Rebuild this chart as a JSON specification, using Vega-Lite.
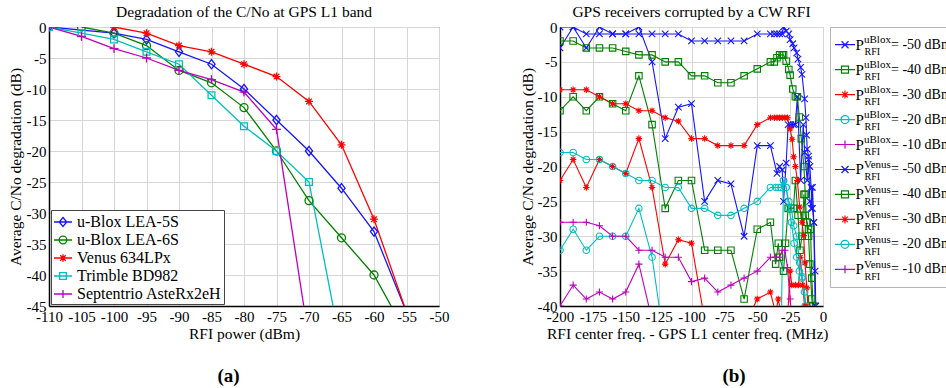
{
 "$schema": "https://vega.github.io/schema/vega-lite/v6.json",
 "padding": {"left": 7, "top": 4, "right": 0, "bottom": 0},
 "background": "white",
 "config": {
  "font": "Liberation Serif",
  "axis": {"labelFont": "Liberation Serif", "labelFontSize": 15, "labelColor": "#000", "titleFont": "Liberation Serif", "titleFontSize": 15.5, "titleFontWeight": "normal", "titleColor": "#000", "ticks": false, "grid": true, "gridColor": "#d6d6d6", "domainColor": "#000", "domainWidth": 1.5, "labelPadding": 3, "labelFlush": false, "labelOverlap": false},
  "title": {"font": "Liberation Serif", "fontSize": 15.5, "fontWeight": "normal", "color": "#000"}
 },
 "resolve": {"scale": {"color": "independent", "shape": "independent"}},
 "spacing": 69,
 "datasets": {
  "left": [
   {"rx": "u-Blox LEA-5S", "x": -110, "y": 0}, {"rx": "u-Blox LEA-5S", "x": -100, "y": -1}, {"rx": "u-Blox LEA-5S", "x": -95, "y": -2}, {"rx": "u-Blox LEA-5S", "x": -90, "y": -4}, {"rx": "u-Blox LEA-5S", "x": -85, "y": -6}, {"rx": "u-Blox LEA-5S", "x": -80, "y": -10}, {"rx": "u-Blox LEA-5S", "x": -75, "y": -15}, {"rx": "u-Blox LEA-5S", "x": -70, "y": -20}, {"rx": "u-Blox LEA-5S", "x": -65, "y": -26}, {"rx": "u-Blox LEA-5S", "x": -60, "y": -33}, {"rx": "u-Blox LEA-5S", "x": -55, "y": -46},
   {"rx": "u-Blox LEA-6S", "x": -105, "y": 0}, {"rx": "u-Blox LEA-6S", "x": -100, "y": -1}, {"rx": "u-Blox LEA-6S", "x": -95, "y": -3}, {"rx": "u-Blox LEA-6S", "x": -90, "y": -7}, {"rx": "u-Blox LEA-6S", "x": -85, "y": -9}, {"rx": "u-Blox LEA-6S", "x": -80, "y": -13}, {"rx": "u-Blox LEA-6S", "x": -75, "y": -20}, {"rx": "u-Blox LEA-6S", "x": -70, "y": -28}, {"rx": "u-Blox LEA-6S", "x": -65, "y": -34}, {"rx": "u-Blox LEA-6S", "x": -60, "y": -40}, {"rx": "u-Blox LEA-6S", "x": -55, "y": -49.5},
   {"rx": "Venus 634LPx", "x": -100, "y": 0}, {"rx": "Venus 634LPx", "x": -95, "y": -1}, {"rx": "Venus 634LPx", "x": -90, "y": -3}, {"rx": "Venus 634LPx", "x": -85, "y": -4}, {"rx": "Venus 634LPx", "x": -80, "y": -6}, {"rx": "Venus 634LPx", "x": -75, "y": -8}, {"rx": "Venus 634LPx", "x": -70, "y": -12}, {"rx": "Venus 634LPx", "x": -65, "y": -19}, {"rx": "Venus 634LPx", "x": -60, "y": -31}, {"rx": "Venus 634LPx", "x": -55, "y": -46},
   {"rx": "Trimble BD982", "x": -110, "y": 0}, {"rx": "Trimble BD982", "x": -105, "y": -1}, {"rx": "Trimble BD982", "x": -100, "y": -2}, {"rx": "Trimble BD982", "x": -95, "y": -4}, {"rx": "Trimble BD982", "x": -90, "y": -6}, {"rx": "Trimble BD982", "x": -85, "y": -11}, {"rx": "Trimble BD982", "x": -80, "y": -16}, {"rx": "Trimble BD982", "x": -75, "y": -20}, {"rx": "Trimble BD982", "x": -70, "y": -25}, {"rx": "Trimble BD982", "x": -65, "y": -52},
   {"rx": "Septentrio AsteRx2eH", "x": -110, "y": 0}, {"rx": "Septentrio AsteRx2eH", "x": -105, "y": -1.5}, {"rx": "Septentrio AsteRx2eH", "x": -100, "y": -3.5}, {"rx": "Septentrio AsteRx2eH", "x": -95, "y": -5}, {"rx": "Septentrio AsteRx2eH", "x": -90, "y": -7}, {"rx": "Septentrio AsteRx2eH", "x": -85, "y": -8.5}, {"rx": "Septentrio AsteRx2eH", "x": -80, "y": -10.5}, {"rx": "Septentrio AsteRx2eH", "x": -75, "y": -16.5}, {"rx": "Septentrio AsteRx2eH", "x": -70, "y": -50.5}
  ],
  "right": [
   {"r":"uBlox","p":-50,"f":-200,"d":0},{"r":"uBlox","p":-50,"f":-190,"d":0},{"r":"uBlox","p":-50,"f":-180,"d":-1},{"r":"uBlox","p":-50,"f":-170,"d":-1},{"r":"uBlox","p":-50,"f":-160,"d":-1},{"r":"uBlox","p":-50,"f":-150,"d":-1},{"r":"uBlox","p":-50,"f":-140,"d":-1},{"r":"uBlox","p":-50,"f":-130,"d":-1},{"r":"uBlox","p":-50,"f":-120,"d":-1},{"r":"uBlox","p":-50,"f":-110,"d":-1},{"r":"uBlox","p":-50,"f":-100,"d":-2},{"r":"uBlox","p":-50,"f":-90,"d":-2},{"r":"uBlox","p":-50,"f":-80,"d":-2},{"r":"uBlox","p":-50,"f":-70,"d":-2},{"r":"uBlox","p":-50,"f":-60,"d":-2},{"r":"uBlox","p":-50,"f":-50,"d":-1},{"r":"uBlox","p":-50,"f":-40,"d":-1},{"r":"uBlox","p":-50,"f":-37,"d":-1},{"r":"uBlox","p":-50,"f":-35,"d":-1},{"r":"uBlox","p":-50,"f":-33,"d":-1},{"r":"uBlox","p":-50,"f":-31,"d":-1},{"r":"uBlox","p":-50,"f":-30,"d":0},{"r":"uBlox","p":-50,"f":-28,"d":-0.6},{"r":"uBlox","p":-50,"f":-26,"d":-1},{"r":"uBlox","p":-50,"f":-25,"d":-1.8},{"r":"uBlox","p":-50,"f":-23,"d":-2.4},{"r":"uBlox","p":-50,"f":-22,"d":-3},{"r":"uBlox","p":-50,"f":-20,"d":-3.7},{"r":"uBlox","p":-50,"f":-19,"d":-4.6},{"r":"uBlox","p":-50,"f":-17,"d":-5.8},{"r":"uBlox","p":-50,"f":-16,"d":-6.8},{"r":"uBlox","p":-50,"f":-14,"d":-10.3},{"r":"uBlox","p":-50,"f":-13,"d":-13},{"r":"uBlox","p":-50,"f":-12.5,"d":-15.5},{"r":"uBlox","p":-50,"f":-12,"d":-17.5},{"r":"uBlox","p":-50,"f":-11,"d":-18.5},{"r":"uBlox","p":-50,"f":-10,"d":-20},{"r":"uBlox","p":-50,"f":-9,"d":-23},{"r":"uBlox","p":-50,"f":-8,"d":-26},{"r":"uBlox","p":-50,"f":-7,"d":-28},{"r":"uBlox","p":-50,"f":-6,"d":-35},{"r":"uBlox","p":-50,"f":-5.5,"d":-40},
   {"r":"Venus","p":-50,"f":-200,"d":-3},{"r":"Venus","p":-50,"f":-190,"d":0},{"r":"Venus","p":-50,"f":-180,"d":-3},{"r":"Venus","p":-50,"f":-170,"d":0},{"r":"Venus","p":-50,"f":-160,"d":-1},{"r":"Venus","p":-50,"f":-150,"d":-1},{"r":"Venus","p":-50,"f":-140,"d":0},{"r":"Venus","p":-50,"f":-130,"d":-5},{"r":"Venus","p":-50,"f":-120,"d":-16},{"r":"Venus","p":-50,"f":-110,"d":-11.5},{"r":"Venus","p":-50,"f":-100,"d":-11},{"r":"Venus","p":-50,"f":-90,"d":-25},{"r":"Venus","p":-50,"f":-80,"d":-22},{"r":"Venus","p":-50,"f":-70,"d":-22.5},{"r":"Venus","p":-50,"f":-60,"d":-30},{"r":"Venus","p":-50,"f":-50,"d":-17},{"r":"Venus","p":-50,"f":-40,"d":-17},{"r":"Venus","p":-50,"f":-35,"d":-21},{"r":"Venus","p":-50,"f":-33,"d":-20},{"r":"Venus","p":-50,"f":-31,"d":-20.5},{"r":"Venus","p":-50,"f":-30,"d":-25},{"r":"Venus","p":-50,"f":-28,"d":-19.5},{"r":"Venus","p":-50,"f":-26.5,"d":-14},{"r":"Venus","p":-50,"f":-24.5,"d":-14},{"r":"Venus","p":-50,"f":-22.5,"d":-14},{"r":"Venus","p":-50,"f":-21,"d":-14},{"r":"Venus","p":-50,"f":-19.5,"d":-10},{"r":"Venus","p":-50,"f":-17,"d":-22},{"r":"Venus","p":-50,"f":-15,"d":-14},{"r":"Venus","p":-50,"f":-14,"d":-18},{"r":"Venus","p":-50,"f":-12,"d":-22},{"r":"Venus","p":-50,"f":-11,"d":-19},{"r":"Venus","p":-50,"f":-10,"d":-25},{"r":"Venus","p":-50,"f":-9,"d":-26},{"r":"Venus","p":-50,"f":-8,"d":-23},{"r":"Venus","p":-50,"f":-7,"d":-28},{"r":"Venus","p":-50,"f":-6,"d":-40},
   {"r":"uBlox","p":-40,"f":-200,"d":-2},{"r":"uBlox","p":-40,"f":-190,"d":-2},{"r":"uBlox","p":-40,"f":-180,"d":-3},{"r":"uBlox","p":-40,"f":-170,"d":-3},{"r":"uBlox","p":-40,"f":-160,"d":-3},{"r":"uBlox","p":-40,"f":-150,"d":-3.5},{"r":"uBlox","p":-40,"f":-140,"d":-4},{"r":"uBlox","p":-40,"f":-130,"d":-4},{"r":"uBlox","p":-40,"f":-120,"d":-5},{"r":"uBlox","p":-40,"f":-110,"d":-5},{"r":"uBlox","p":-40,"f":-100,"d":-7},{"r":"uBlox","p":-40,"f":-90,"d":-7},{"r":"uBlox","p":-40,"f":-80,"d":-8},{"r":"uBlox","p":-40,"f":-70,"d":-8},{"r":"uBlox","p":-40,"f":-60,"d":-7},{"r":"uBlox","p":-40,"f":-50,"d":-6},{"r":"uBlox","p":-40,"f":-40,"d":-5},{"r":"uBlox","p":-40,"f":-37,"d":-5},{"r":"uBlox","p":-40,"f":-35,"d":-4.4},{"r":"uBlox","p":-40,"f":-33,"d":-4},{"r":"uBlox","p":-40,"f":-31,"d":-4},{"r":"uBlox","p":-40,"f":-30,"d":-4},{"r":"uBlox","p":-40,"f":-28,"d":-4.9},{"r":"uBlox","p":-40,"f":-26,"d":-6.1},{"r":"uBlox","p":-40,"f":-25,"d":-6.9},{"r":"uBlox","p":-40,"f":-23,"d":-8.9},{"r":"uBlox","p":-40,"f":-21,"d":-10},{"r":"uBlox","p":-40,"f":-19.5,"d":-10},{"r":"uBlox","p":-40,"f":-18,"d":-12.9},{"r":"uBlox","p":-40,"f":-16.5,"d":-16},{"r":"uBlox","p":-40,"f":-14.5,"d":-20},{"r":"uBlox","p":-40,"f":-13.5,"d":-24},{"r":"uBlox","p":-40,"f":-12.5,"d":-28},{"r":"uBlox","p":-40,"f":-11,"d":-30},{"r":"uBlox","p":-40,"f":-10,"d":-34},{"r":"uBlox","p":-40,"f":-8.5,"d":-39},{"r":"uBlox","p":-40,"f":-8,"d":-40},
   {"r":"Venus","p":-40,"f":-200,"d":-12},{"r":"Venus","p":-40,"f":-190,"d":-10},{"r":"Venus","p":-40,"f":-180,"d":-12},{"r":"Venus","p":-40,"f":-170,"d":-10},{"r":"Venus","p":-40,"f":-160,"d":-11},{"r":"Venus","p":-40,"f":-150,"d":-12},{"r":"Venus","p":-40,"f":-140,"d":-7},{"r":"Venus","p":-40,"f":-130,"d":-14},{"r":"Venus","p":-40,"f":-120,"d":-26},{"r":"Venus","p":-40,"f":-110,"d":-22},{"r":"Venus","p":-40,"f":-100,"d":-22},{"r":"Venus","p":-40,"f":-90,"d":-32},{"r":"Venus","p":-40,"f":-80,"d":-32},{"r":"Venus","p":-40,"f":-70,"d":-32},{"r":"Venus","p":-40,"f":-60,"d":-39},{"r":"Venus","p":-40,"f":-50,"d":-29},{"r":"Venus","p":-40,"f":-40,"d":-28},{"r":"Venus","p":-40,"f":-36,"d":-34},{"r":"Venus","p":-40,"f":-34,"d":-31},{"r":"Venus","p":-40,"f":-33,"d":-33},{"r":"Venus","p":-40,"f":-30,"d":-35},{"r":"Venus","p":-40,"f":-28.5,"d":-31},{"r":"Venus","p":-40,"f":-26.5,"d":-26},{"r":"Venus","p":-40,"f":-24.5,"d":-26},{"r":"Venus","p":-40,"f":-22.5,"d":-26},{"r":"Venus","p":-40,"f":-21,"d":-22},{"r":"Venus","p":-40,"f":-19,"d":-27},{"r":"Venus","p":-40,"f":-17.5,"d":-32},{"r":"Venus","p":-40,"f":-16,"d":-30},{"r":"Venus","p":-40,"f":-14.5,"d":-24},{"r":"Venus","p":-40,"f":-13.5,"d":-27},{"r":"Venus","p":-40,"f":-12,"d":-28},{"r":"Venus","p":-40,"f":-11,"d":-29},{"r":"Venus","p":-40,"f":-9.5,"d":-29},{"r":"Venus","p":-40,"f":-8.5,"d":-36},{"r":"Venus","p":-40,"f":-7.5,"d":-40},
   {"r":"uBlox","p":-30,"f":-200,"d":-9},{"r":"uBlox","p":-30,"f":-190,"d":-9},{"r":"uBlox","p":-30,"f":-180,"d":-9},{"r":"uBlox","p":-30,"f":-170,"d":-10},{"r":"uBlox","p":-30,"f":-160,"d":-11},{"r":"uBlox","p":-30,"f":-150,"d":-11},{"r":"uBlox","p":-30,"f":-140,"d":-12},{"r":"uBlox","p":-30,"f":-130,"d":-12},{"r":"uBlox","p":-30,"f":-120,"d":-13},{"r":"uBlox","p":-30,"f":-110,"d":-13.5},{"r":"uBlox","p":-30,"f":-100,"d":-16},{"r":"uBlox","p":-30,"f":-90,"d":-16},{"r":"uBlox","p":-30,"f":-80,"d":-17},{"r":"uBlox","p":-30,"f":-70,"d":-17},{"r":"uBlox","p":-30,"f":-60,"d":-17},{"r":"uBlox","p":-30,"f":-50,"d":-14},{"r":"uBlox","p":-30,"f":-40,"d":-13},{"r":"uBlox","p":-30,"f":-37,"d":-13},{"r":"uBlox","p":-30,"f":-35,"d":-13},{"r":"uBlox","p":-30,"f":-33,"d":-13},{"r":"uBlox","p":-30,"f":-31,"d":-13},{"r":"uBlox","p":-30,"f":-29,"d":-13},{"r":"uBlox","p":-30,"f":-27,"d":-13},{"r":"uBlox","p":-30,"f":-25,"d":-14.6},{"r":"uBlox","p":-30,"f":-23.5,"d":-16.1},{"r":"uBlox","p":-30,"f":-22.3,"d":-18.6},{"r":"uBlox","p":-30,"f":-21,"d":-20},{"r":"uBlox","p":-30,"f":-19.5,"d":-22},{"r":"uBlox","p":-30,"f":-17.7,"d":-25.8},{"r":"uBlox","p":-30,"f":-16,"d":-28},{"r":"uBlox","p":-30,"f":-14.7,"d":-29.9},{"r":"uBlox","p":-30,"f":-13.7,"d":-33.8},{"r":"uBlox","p":-30,"f":-12.3,"d":-37.4},{"r":"uBlox","p":-30,"f":-11.5,"d":-40},
   {"r":"Venus","p":-30,"f":-200,"d":-22},{"r":"Venus","p":-30,"f":-190,"d":-19},{"r":"Venus","p":-30,"f":-180,"d":-23},{"r":"Venus","p":-30,"f":-170,"d":-19},{"r":"Venus","p":-30,"f":-160,"d":-20},{"r":"Venus","p":-30,"f":-150,"d":-21},{"r":"Venus","p":-30,"f":-140,"d":-16},{"r":"Venus","p":-30,"f":-130,"d":-23},{"r":"Venus","p":-30,"f":-120,"d":-34},{"r":"Venus","p":-30,"f":-110,"d":-30.5},{"r":"Venus","p":-30,"f":-100,"d":-31},{"r":"Venus","p":-30,"f":-90,"d":-42},{"r":"Venus","p":-30,"f":-80,"d":-44},{"r":"Venus","p":-30,"f":-70,"d":-44},{"r":"Venus","p":-30,"f":-60,"d":-43},{"r":"Venus","p":-30,"f":-50,"d":-39},{"r":"Venus","p":-30,"f":-40,"d":-38},{"r":"Venus","p":-30,"f":-36,"d":-41},{"r":"Venus","p":-30,"f":-34,"d":-39},{"r":"Venus","p":-30,"f":-31,"d":-42},{"r":"Venus","p":-30,"f":-27,"d":-42},{"r":"Venus","p":-30,"f":-25,"d":-35},{"r":"Venus","p":-30,"f":-23.7,"d":-37},{"r":"Venus","p":-30,"f":-21,"d":-37},{"r":"Venus","p":-30,"f":-18.5,"d":-37},{"r":"Venus","p":-30,"f":-17.2,"d":-33},{"r":"Venus","p":-30,"f":-15.5,"d":-37},{"r":"Venus","p":-30,"f":-14,"d":-40},{"r":"Venus","p":-30,"f":-13,"d":-42},
   {"r":"uBlox","p":-20,"f":-200,"d":-18},{"r":"uBlox","p":-20,"f":-190,"d":-18},{"r":"uBlox","p":-20,"f":-180,"d":-19},{"r":"uBlox","p":-20,"f":-170,"d":-19},{"r":"uBlox","p":-20,"f":-160,"d":-20},{"r":"uBlox","p":-20,"f":-150,"d":-21},{"r":"uBlox","p":-20,"f":-140,"d":-22},{"r":"uBlox","p":-20,"f":-130,"d":-22},{"r":"uBlox","p":-20,"f":-120,"d":-23},{"r":"uBlox","p":-20,"f":-110,"d":-23},{"r":"uBlox","p":-20,"f":-100,"d":-26},{"r":"uBlox","p":-20,"f":-90,"d":-26},{"r":"uBlox","p":-20,"f":-80,"d":-27},{"r":"uBlox","p":-20,"f":-70,"d":-27},{"r":"uBlox","p":-20,"f":-60,"d":-26},{"r":"uBlox","p":-20,"f":-50,"d":-25},{"r":"uBlox","p":-20,"f":-40,"d":-23},{"r":"uBlox","p":-20,"f":-36,"d":-23},{"r":"uBlox","p":-20,"f":-34,"d":-23},{"r":"uBlox","p":-20,"f":-32,"d":-23},{"r":"uBlox","p":-20,"f":-30,"d":-22},{"r":"uBlox","p":-20,"f":-28,"d":-23},{"r":"uBlox","p":-20,"f":-26,"d":-25},{"r":"uBlox","p":-20,"f":-24,"d":-26},{"r":"uBlox","p":-20,"f":-22.3,"d":-28.5},{"r":"uBlox","p":-20,"f":-20,"d":-30},{"r":"uBlox","p":-20,"f":-17.7,"d":-33.8},{"r":"uBlox","p":-20,"f":-15.7,"d":-35.8},{"r":"uBlox","p":-20,"f":-13.5,"d":-40},
   {"r":"Venus","p":-20,"f":-200,"d":-32},{"r":"Venus","p":-20,"f":-190,"d":-29},{"r":"Venus","p":-20,"f":-180,"d":-32},{"r":"Venus","p":-20,"f":-170,"d":-30},{"r":"Venus","p":-20,"f":-160,"d":-30},{"r":"Venus","p":-20,"f":-150,"d":-30},{"r":"Venus","p":-20,"f":-140,"d":-26},{"r":"Venus","p":-20,"f":-130,"d":-33},{"r":"Venus","p":-20,"f":-120,"d":-46},{"r":"Venus","p":-20,"f":-32,"d":-46},{"r":"Venus","p":-20,"f":-30,"d":-22},{"r":"Venus","p":-20,"f":-28,"d":-23},{"r":"Venus","p":-20,"f":-26,"d":-26},{"r":"Venus","p":-20,"f":-24,"d":-28},{"r":"Venus","p":-20,"f":-22,"d":-31},{"r":"Venus","p":-20,"f":-20,"d":-33},{"r":"Venus","p":-20,"f":-18,"d":-35},{"r":"Venus","p":-20,"f":-16,"d":-36},{"r":"Venus","p":-20,"f":-14,"d":-38},{"r":"Venus","p":-20,"f":-12.5,"d":-41},
   {"r":"uBlox","p":-10,"f":-200,"d":-28},{"r":"uBlox","p":-10,"f":-190,"d":-28},{"r":"uBlox","p":-10,"f":-180,"d":-28},{"r":"uBlox","p":-10,"f":-170,"d":-28.5},{"r":"uBlox","p":-10,"f":-160,"d":-30},{"r":"uBlox","p":-10,"f":-150,"d":-30},{"r":"uBlox","p":-10,"f":-140,"d":-32},{"r":"uBlox","p":-10,"f":-130,"d":-32},{"r":"uBlox","p":-10,"f":-120,"d":-33},{"r":"uBlox","p":-10,"f":-110,"d":-33},{"r":"uBlox","p":-10,"f":-100,"d":-36.5},{"r":"uBlox","p":-10,"f":-90,"d":-36},{"r":"uBlox","p":-10,"f":-80,"d":-38},{"r":"uBlox","p":-10,"f":-70,"d":-37},{"r":"uBlox","p":-10,"f":-60,"d":-36},{"r":"uBlox","p":-10,"f":-50,"d":-35},{"r":"uBlox","p":-10,"f":-40,"d":-33},{"r":"uBlox","p":-10,"f":-36,"d":-33},{"r":"uBlox","p":-10,"f":-33,"d":-33},{"r":"uBlox","p":-10,"f":-31,"d":-32},{"r":"uBlox","p":-10,"f":-29,"d":-32},{"r":"uBlox","p":-10,"f":-27,"d":-34.5},{"r":"uBlox","p":-10,"f":-25,"d":-39},{"r":"uBlox","p":-10,"f":-24,"d":-41},
   {"r":"Venus","p":-10,"f":-200,"d":-40},{"r":"Venus","p":-10,"f":-190,"d":-37},{"r":"Venus","p":-10,"f":-180,"d":-39},{"r":"Venus","p":-10,"f":-170,"d":-38},{"r":"Venus","p":-10,"f":-160,"d":-39},{"r":"Venus","p":-10,"f":-150,"d":-38},{"r":"Venus","p":-10,"f":-140,"d":-34},{"r":"Venus","p":-10,"f":-130,"d":-42}
  ],
  "leg": [
   {"k":1,"r":"uBlox","p":-50,"lab":"= -50 dBm"},{"k":2,"r":"uBlox","p":-40,"lab":"= -40 dBm"},{"k":3,"r":"uBlox","p":-30,"lab":"= -30 dBm"},{"k":4,"r":"uBlox","p":-20,"lab":"= -20 dBm"},{"k":5,"r":"uBlox","p":-10,"lab":"= -10 dBm"},
   {"k":6,"r":"Venus","p":-50,"lab":"= -50 dBm"},{"k":7,"r":"Venus","p":-40,"lab":"= -40 dBm"},{"k":8,"r":"Venus","p":-30,"lab":"= -30 dBm"},{"k":9,"r":"Venus","p":-20,"lab":"= -20 dBm"},{"k":10,"r":"Venus","p":-10,"lab":"= -10 dBm"}
  ]
 },
 "hconcat": [
  {
   "title": {"text": "(a)", "orient": "bottom", "anchor": "middle", "fontSize": 19, "fontWeight": "bold", "offset": 25},
   "vconcat": [
    {
     "width": 390, "height": 279,
     "view": {"stroke": "#333"},
     "title": {"text": "Degradation of the C/No at GPS L1 band", "offset": 0},
     "data": {"name": "left"},
     "encoding": {
      "x": {"field": "x", "type": "quantitative", "scale": {"domain": [-110, -50], "nice": false, "zero": false}, "axis": {"values": [-110, -105, -100, -95, -90, -85, -80, -75, -70, -65, -60, -55, -50], "title": "RFI power (dBm)", "labelExpr": "toString(datum.value)", "titlePadding": 2}},
      "y": {"field": "y", "type": "quantitative", "scale": {"domain": [-45, 0], "nice": false, "zero": false}, "axis": {"values": [0, -5, -10, -15, -20, -25, -30, -35, -40, -45], "title": "Average C/No degradation (dB)", "labelExpr": "toString(datum.value)", "titlePadding": 3}}
     },
     "layer": [
      {"mark": {"type": "line", "clip": true, "strokeWidth": 1.3},
       "encoding": {"color": {"field": "rx", "type": "nominal", "scale": {"domain": ["u-Blox LEA-5S", "u-Blox LEA-6S", "Venus 634LPx", "Trimble BD982", "Septentrio AsteRx2eH"], "range": ["#1515ff", "#008000", "#ff0000", "#00bfbf", "#bf00bf"]}, "legend": null}}},
      {"mark": {"type": "point", "clip": true, "filled": false, "size": 64, "strokeWidth": 1.3, "opacity": 1},
       "encoding": {
        "color": {"field": "rx", "type": "nominal", "scale": {"domain": ["u-Blox LEA-5S", "u-Blox LEA-6S", "Venus 634LPx", "Trimble BD982", "Septentrio AsteRx2eH"], "range": ["#1515ff", "#008000", "#ff0000", "#00bfbf", "#bf00bf"]}, "legend": null},
        "shape": {"field": "rx", "type": "nominal", "scale": {"domain": ["u-Blox LEA-5S", "u-Blox LEA-6S", "Venus 634LPx", "Trimble BD982", "Septentrio AsteRx2eH"], "range": ["M0,-1.15L0.9,0L0,1.15L-0.9,0Z", "circle", "M-1,0H1M0,-1V1M-0.7,-0.7L0.7,0.7M-0.7,0.7L0.7,-0.7", "M-0.85,-0.85H0.85V0.85H-0.85Z", "M-1.1,0H1.1M0,-1.1V1.1"]}, "legend": null}
       }},
      {"transform": [{"filter": "false"}],
       "mark": {"type": "point", "filled": false, "size": 324, "strokeWidth": 1.3, "opacity": 1},
       "encoding": {
        "color": {"field": "rx", "type": "nominal", "scale": {"domain": ["u-Blox LEA-5S", "u-Blox LEA-6S", "Venus 634LPx", "Trimble BD982", "Septentrio AsteRx2eH"], "range": ["#1515ff", "#008000", "#ff0000", "#00bfbf", "#bf00bf"]},
         "legend": {"title": null, "orient": "bottom-left", "offset": 2, "fillColor": "white", "strokeColor": "#444", "padding": 2, "rowPadding": 0, "labelFont": "Liberation Serif", "labelFontSize": 16, "labelColor": "#000", "labelOffset": 4, "symbolSize": 324, "symbolStrokeWidth": 1.3, "symbolOpacity": 1}},
        "shape": {"field": "rx", "type": "nominal", "scale": {"domain": ["u-Blox LEA-5S", "u-Blox LEA-6S", "Venus 634LPx", "Trimble BD982", "Septentrio AsteRx2eH"], "range": ["M-1,0H1M0,-0.5L0.42,0L0,0.5L-0.42,0Z", "M-1,0H1M0.42,0A0.42,0.42,0,1,1,-0.42,0A0.42,0.42,0,1,1,0.42,0", "M-1,0H1M0,-0.42V0.42M-0.3,-0.3L0.3,0.3M-0.3,0.3L0.3,-0.3", "M-1,0H1M-0.37,-0.37H0.37V0.37H-0.37Z", "M-1,0H1M0,-0.45V0.45"]},
         "legend": {"title": null, "orient": "bottom-left", "offset": 2, "fillColor": "white", "strokeColor": "#444", "padding": 2, "rowPadding": 0, "labelFont": "Liberation Serif", "labelFontSize": 16, "labelColor": "#000", "labelOffset": 4, "symbolSize": 324, "symbolStrokeWidth": 1.3, "symbolOpacity": 1}}
       }}
     ],
     "resolve": {"scale": {"color": "independent", "shape": "independent"}}
    }
   ]
  },
  {
   "title": {"text": "(b)", "orient": "bottom", "anchor": "middle", "fontSize": 19, "fontWeight": "bold", "offset": 25},
   "spacing": 0,
   "resolve": {"scale": {"color": "independent", "shape": "independent"}},
   "hconcat": [
    {
     "width": 263, "height": 279,
     "view": {"stroke": "#aaa"},
     "title": {"text": "GPS receivers corrupted by a CW RFI", "offset": 0},
     "data": {"name": "right"},
     "encoding": {
      "x": {"field": "f", "type": "quantitative", "scale": {"domain": [-200, 0], "nice": false, "zero": false}, "axis": {"values": [-200, -175, -150, -125, -100, -75, -50, -25, 0], "title": "RFI center freq. - GPS L1 center freq. (MHz)", "labelExpr": "toString(datum.value)", "titlePadding": 2, "titleAnchor": "end", "titleAlign": "right", "titleX": 268}},
      "y": {"field": "d", "type": "quantitative", "scale": {"domain": [-40, 0], "nice": false, "zero": false}, "axis": {"values": [0, -5, -10, -15, -20, -25, -30, -35, -40], "title": "Average C/No degradation (dB)", "labelExpr": "toString(datum.value)", "titlePadding": 2}},
      "color": {"field": "p", "type": "nominal", "scale": {"domain": [-50, -40, -30, -20, -10], "range": ["#1515ff", "#008000", "#ff0000", "#00bfbf", "#bf00bf"]}, "legend": null}
     },
     "layer": [
      {"mark": {"type": "line", "clip": true, "strokeWidth": 1.1}, "encoding": {"detail": {"field": "r"}}},
      {"mark": {"type": "point", "clip": true, "filled": false, "size": 42, "strokeWidth": 1.1, "opacity": 1},
       "encoding": {"shape": {"field": "p", "type": "nominal", "scale": {"domain": [-50, -40, -30, -20, -10], "range": ["M-1,-1L1,1M-1,1L1,-1", "square", "M-1,0H1M0,-1V1M-0.7,-0.7L0.7,0.7M-0.7,0.7L0.7,-0.7", "circle", "M-1.1,0H1.1M0,-1.1V1.1"]}, "legend": null}}}
     ]
    },
    {
     "width": 118, "height": 260,
     "title": {"text": " ", "offset": 1, "fontSize": 9.5},
     "view": {"stroke": "#b5b5b5", "fill": "white"},
     "data": {"name": "leg"},
     "encoding": {"y": {"field": "k", "type": "ordinal", "axis": null, "scale": {"type": "point", "padding": 0.71}}},
     "layer": [
      {"mark": {"type": "point", "filled": false, "size": 400, "strokeWidth": 1.2, "opacity": 1},
       "encoding": {
        "color": {"field": "p", "type": "nominal", "scale": {"domain": [-50, -40, -30, -20, -10], "range": ["#1515ff", "#008000", "#ff0000", "#00bfbf", "#bf00bf"]}, "legend": null},
        "shape": {"field": "p", "type": "nominal", "scale": {"domain": [-50, -40, -30, -20, -10], "range": ["M-5.4,0H-3.4M-4.75,-0.35L-4.05,0.35M-4.75,0.35L-4.05,-0.35", "M-5.4,0H-3.4M-4.75,-0.35H-4.05V0.35H-4.75Z", "M-5.4,0H-3.4M-4.4,-0.4V0.4M-4.68,-0.28L-4.12,0.28M-4.68,0.28L-4.12,-0.28", "M-5.4,0H-3.4M-4.0,0A0.4,0.4,0,1,1,-4.8,0A0.4,0.4,0,1,1,-4.0,0", "M-5.4,0H-3.4M-4.4,-0.4V0.4"]}, "legend": null}
       }},
      {"mark": {"type": "text", "text": "P", "align": "left", "baseline": "middle", "fontSize": 15, "dx": -33.5, "color": "#000"}},
      {"mark": {"type": "text", "align": "left", "baseline": "middle", "fontSize": 11, "dx": -25, "dy": -4.5, "color": "#000"}, "encoding": {"text": {"field": "r"}}},
      {"mark": {"type": "text", "text": "RFI", "align": "left", "baseline": "middle", "fontSize": 10, "dx": -24.5, "dy": 7.5, "color": "#000"}},
      {"mark": {"type": "text", "align": "left", "baseline": "middle", "fontSize": 14, "dx": 2, "clip": true, "color": "#000"}, "encoding": {"text": {"field": "lab"}}}
     ]
    }
   ]
  }
 ]
}
